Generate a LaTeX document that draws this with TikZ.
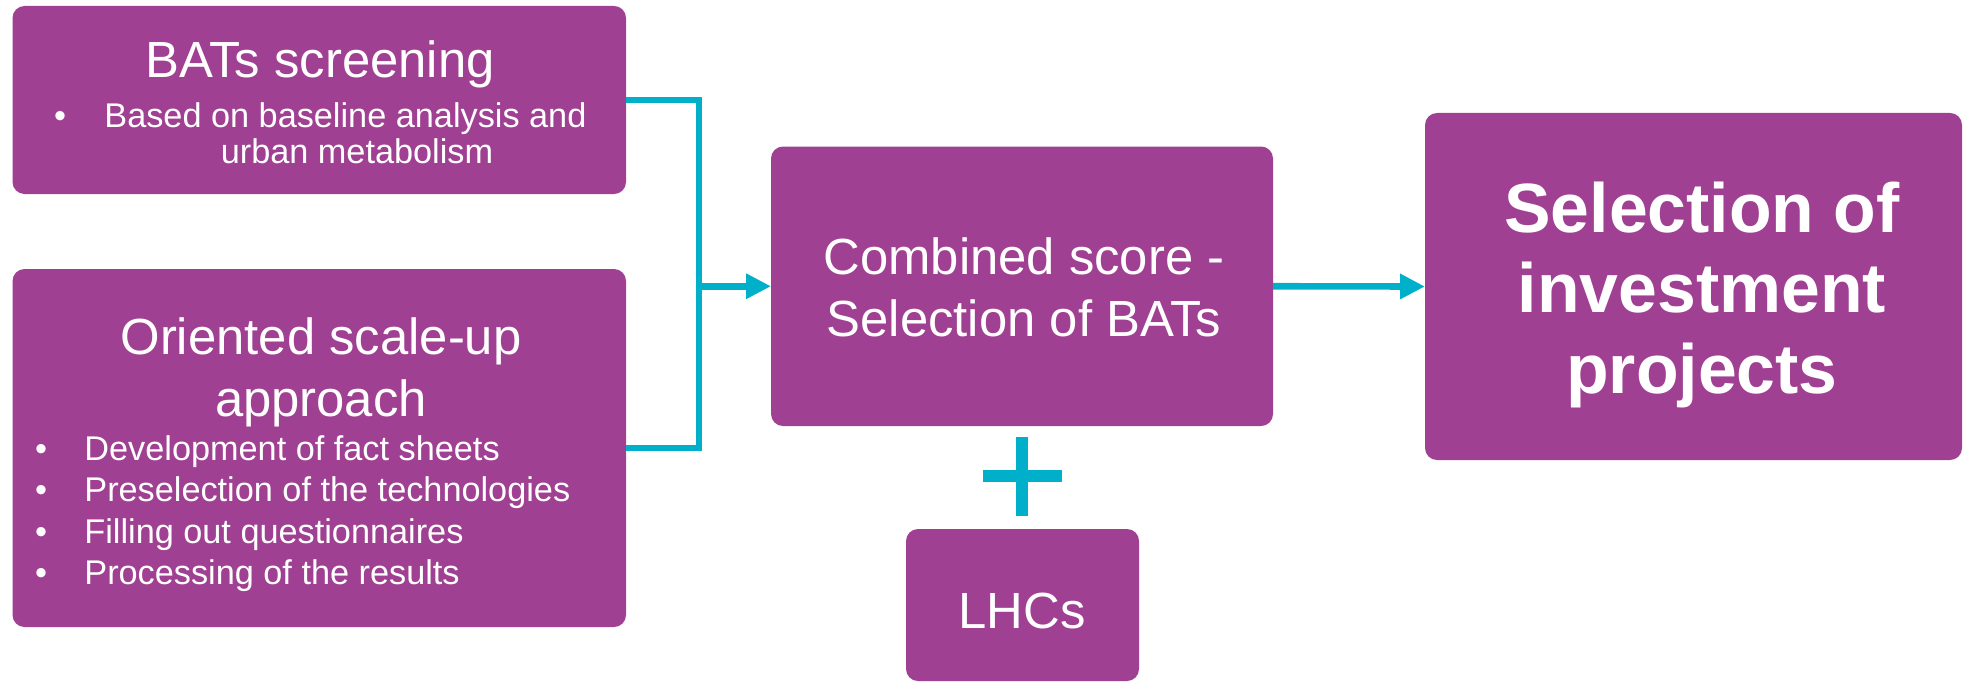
\documentclass[tikz,border=0pt]{standalone}
\usepackage{fontspec}
\setmainfont{Liberation Sans}
\usetikzlibrary{arrows.meta}
\definecolor{boxpurple}{RGB}{160,64,146}
\definecolor{linkteal}{RGB}{0,176,202}
\begin{document}
\begin{tikzpicture}[x=0.5bp,y=-0.5bp,
  box/.style={fill=boxpurple, draw=none, rounded corners=6bp, anchor=north west, inner sep=0pt, outer sep=0pt},
  txt/.style={text=white, inner sep=0pt, font=\fontsize{25.5}{31}\selectfont},
  small/.style={text=white, inner sep=0pt, font=\fontsize{17.2}{20.5}\selectfont},
  big/.style={text=white, inner sep=0pt, font=\fontsize{35}{40}\selectfont\bfseries},
  link/.style={draw=linkteal, line width=3.3bp, line join=miter},
  tip/.style={-{Triangle[length=12.5bp,width=12bp]}},
  plusbar/.style={draw=linkteal, line width=6bp}
]
\useasboundingbox (0,0) rectangle (1964,683);

% boxes
\node[box, minimum width=306.75bp, minimum height=94bp] (bats) at (12.5,6) {};
\node[box, minimum width=306.75bp, minimum height=179bp] (orient) at (12.5,269) {};
\node[box, minimum width=251bp, minimum height=139.75bp] (comb) at (771,146.5) {};
\node[box, minimum width=268.5bp, minimum height=173.5bp] (sel) at (1425,113) {};
\node[box, minimum width=116.5bp, minimum height=76bp] (lhc) at (906,529) {};

% connectors
\path (comb.west) ++(-72,0) coordinate (j);
\draw[link] (bats.east) -| (j) |- (orient.east);
\draw[link, tip] (j) -- (comb.west);
\draw[link, tip] (comb.east) -- (sel.west);

% plus sign
\coordinate (plus) at (1022,476);
\draw[plusbar] ([shift={(0,-39)}]plus) -- ([shift={(0,40)}]plus);
\draw[plusbar] ([shift={(-39,0)}]plus) -- ([shift={(40,0)}]plus);

% BATs screening texts
\node[txt, anchor=base] (t1) at (320,78) {BATs screening};
\node[small, anchor=base] (t1d) at (60,128) {•};
\node[small, anchor=base west] (t1a) at (104,128) {Based on baseline analysis and};
\node[small, anchor=base] (t1b) at (357,163) {urban metabolism};

% Oriented texts
\node[txt, anchor=base] (t2a) at (321,354) {Oriented scale-up};
\node[txt, anchor=base] (t2b) at (321,416) {approach};
\node[small, anchor=base] (d1) at (41,460) {•};
\node[small, anchor=base] (d2) at (41,501.5) {•};
\node[small, anchor=base] (d3) at (41,543) {•};
\node[small, anchor=base] (d4) at (41,584.5) {•};
\node[small, anchor=base west] (i1) at (84,460) {Development of fact sheets};
\node[small, anchor=base west] (i2) at (84,501.5) {Preselection of the technologies};
\node[small, anchor=base west] (i3) at (84,543) {Filling out questionnaires};
\node[small, anchor=base west] (i4) at (84,584.5) {Processing of the results};

% Combined texts
\node[txt, anchor=base] (t3a) at (1024,274) {Combined score -};
\node[txt, anchor=base] (t3b) at (1024,336) {Selection of BATs};

% Selection texts
\node[big, anchor=base] (t4a) at (1702,232) {Selection of};
\node[big, anchor=base] (t4b) at (1702,312) {investment};
\node[big, anchor=base] (t4c) at (1702,393) {projects};

% LHCs
\node[txt, anchor=base] (t5) at (1022,628) {LHCs};
\end{tikzpicture}
\end{document}
